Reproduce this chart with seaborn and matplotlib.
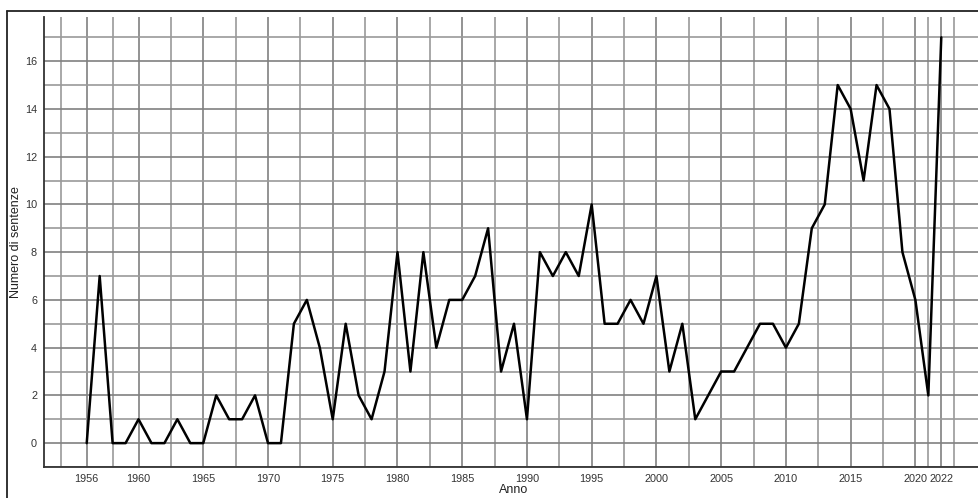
import matplotlib
matplotlib.use("Agg")
import matplotlib.pyplot as plt
from matplotlib.lines import Line2D
import seaborn as sns
import numpy as np

# dati: numero di sentenze per anno
anni = list(range(1956, 2023))
sentenze = [0, 7, 0, 0, 1, 0, 0, 1, 0, 0,
            2, 1, 1, 2, 0, 0, 5, 6, 4, 1,
            5, 2, 1, 3, 8, 3, 8, 4, 6, 6,
            7, 9, 3, 5, 1, 8, 7, 8, 7, 10,
            5, 5, 6, 5, 7, 3, 5, 1, 2, 3,
            3, 4, 5, 5, 4, 5, 9, 10, 15, 14,
            11, 15, 14, 8, 6, 2, 17]

x_ticks = [1956, 1960, 1965, 1970, 1975, 1980, 1985, 1990, 1995,
           2000, 2005, 2010, 2015, 2020, 2022]
y_ticks = list(range(0, 17, 2))

sns.set_style("whitegrid")
plt.rcParams["font.family"] = ["Liberation Sans", "DejaVu Sans"]

fig = plt.figure(figsize=(9.79, 4.98), dpi=100)
ax = fig.add_axes([44 / 979, 1 - 467 / 498, 940 / 979, 450 / 498])

sns.lineplot(x=anni, y=sentenze, color="black", linewidth=1.8, ax=ax)

# griglia minore a metà tra i tick principali
mids = [(a + b) / 2 for a, b in zip(x_ticks[:-1], x_ticks[1:])]
minor_x = [x_ticks[0] - (mids[0] - x_ticks[0])] + mids + [x_ticks[-1] + (x_ticks[-1] - mids[-1])]
ax.set_xticks(x_ticks)
ax.set_xticks(minor_x, minor=True)
ax.set_yticks(y_ticks)
ax.set_yticks(list(range(-1, 18, 2)), minor=True)

ax.grid(which="major", color="#808080", linewidth=1.2)
ax.grid(which="minor", color="#9a9a9a", linewidth=1.2)
ax.tick_params(which="both", length=0, labelsize=7.8, colors="#333333", pad=5)

ax.set_xlabel("Anno", fontsize=9, color="#222222", labelpad=0)
ax.set_ylabel("Numero di sentenze", fontsize=9, color="#222222")
ax.yaxis.set_label_coords(-0.0235, 0.5)

for side in ["top", "right"]:
    ax.spines[side].set_visible(False)
for side in ["left", "bottom"]:
    ax.spines[side].set_color("#333333")
    ax.spines[side].set_linewidth(1.3)

# cornice della figura (lato sinistro e superiore)
fig.add_artist(Line2D([7 / 979, 7 / 979], [0, 1 - 11 / 498], color="#222222", linewidth=1.3, transform=fig.transFigure))
fig.add_artist(Line2D([7 / 979, 1], [1 - 11 / 498, 1 - 11 / 498], color="#222222", linewidth=1.3, transform=fig.transFigure))

fig.savefig("out.png", dpi=100)
plt.close(fig)
